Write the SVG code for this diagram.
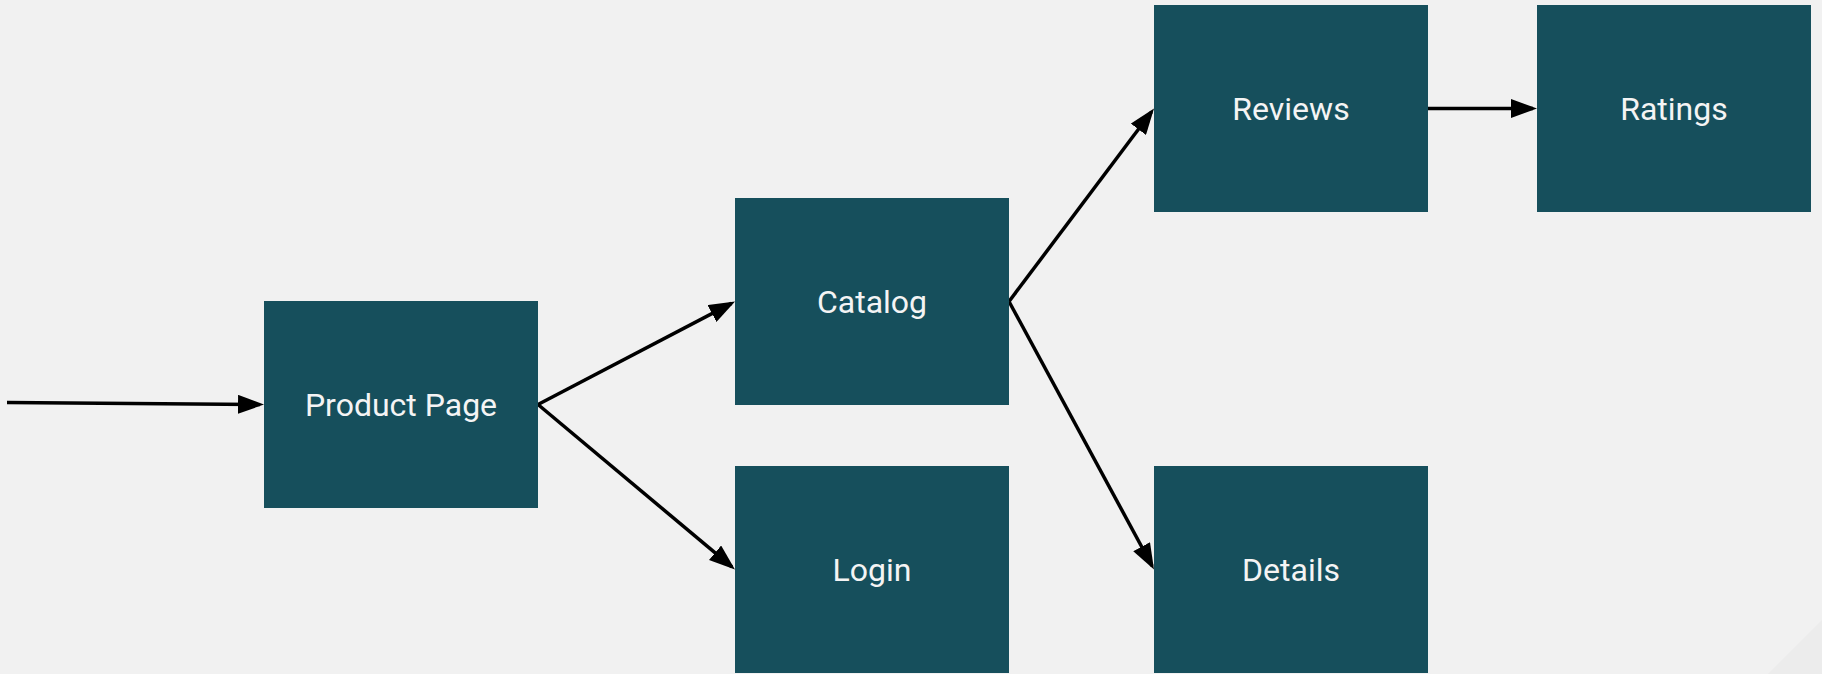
<svg xmlns="http://www.w3.org/2000/svg" width="1822" height="674" viewBox="0 0 1822 674">
  <style>
    .node rect { fill: #164f5c; }
    .node text { fill: #f4f4f4; font-family: Roboto, "Noto Sans", sans-serif; font-size: 32px; text-anchor: middle; }
    .edge { stroke: #000; stroke-width: 3.5; fill: none; marker-end: url(#arrow); }
  </style>
  <defs>
    <marker id="arrow" markerUnits="userSpaceOnUse" markerWidth="26" markerHeight="19" refX="22" refY="9.5" orient="auto">
      <path d="M0,0 L26,9.5 L0,19 Z" fill="#000"/>
    </marker>
  </defs>

  <!-- canvas -->
  <rect x="0" y="0" width="1822" height="674" fill="#f1f1f1"/>
  <polygon points="1768,674 1822,620 1822,674" fill="#ececec"/>

  <!-- connectors -->
  <g id="connectors">
    <line class="edge" x1="7" y1="402.5" x2="260" y2="404.5"/>
    <line class="edge" x1="538" y1="404.5" x2="731.5" y2="303.4"/>
    <line class="edge" x1="538" y1="404.5" x2="731.9" y2="566.9"/>
    <line class="edge" x1="1009" y1="301.5" x2="1151.6" y2="111.7"/>
    <line class="edge" x1="1009" y1="301.5" x2="1152.1" y2="566"/>
    <line class="edge" x1="1428" y1="108.5" x2="1533" y2="108.5"/>
  </g>

  <!-- services -->
  <g id="product-page" class="node">
    <rect x="264" y="301" width="274" height="207"/>
    <text x="401" y="416">Product Page</text>
  </g>
  <g id="catalog" class="node">
    <rect x="735" y="198" width="274" height="207"/>
    <text x="872" y="313">Catalog</text>
  </g>
  <g id="login" class="node">
    <rect x="735" y="466" width="274" height="207"/>
    <text x="872" y="581">Login</text>
  </g>
  <g id="reviews" class="node">
    <rect x="1154" y="5" width="274" height="207"/>
    <text x="1291" y="120">Reviews</text>
  </g>
  <g id="ratings" class="node">
    <rect x="1537" y="5" width="274" height="207"/>
    <text x="1674" y="120">Ratings</text>
  </g>
  <g id="details" class="node">
    <rect x="1154" y="466" width="274" height="207"/>
    <text x="1291" y="581">Details</text>
  </g>
</svg>
